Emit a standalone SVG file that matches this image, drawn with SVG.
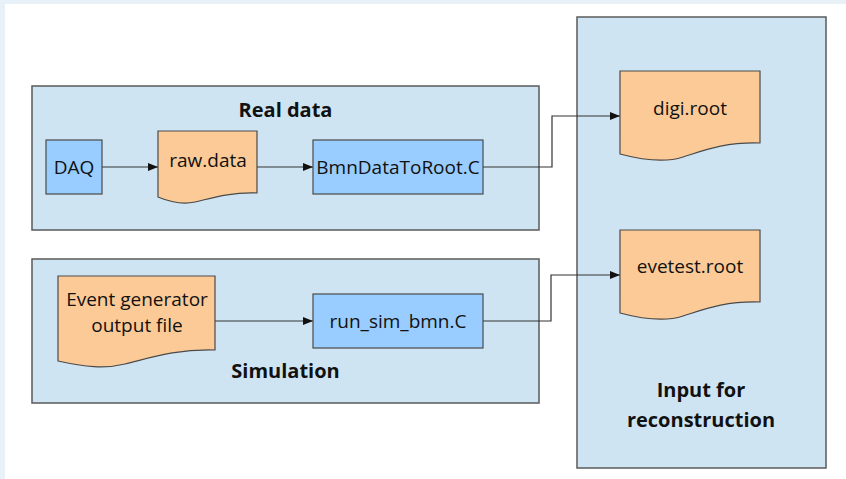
<svg xmlns="http://www.w3.org/2000/svg" width="846" height="479" viewBox="0 0 846 479">
  <style>
    .frame { fill: #cfe4f3; stroke: #5a5a5a; stroke-width: 1.5; }
    .proc { fill: #99ccff; stroke: #4a4a4a; stroke-width: 1.2; }
    .doc { fill: #fcca96; stroke: #4a4a4a; stroke-width: 1.2; }
    .lbl { font-family: "Open Sans", "Liberation Sans", sans-serif; font-size: 19px; fill: #111; text-anchor: middle; }
    .title { font-family: "Open Sans", "Liberation Sans", sans-serif; font-size: 20px; font-weight: bold; fill: #111; text-anchor: middle; }
    .wire { fill: none; stroke: #333; stroke-width: 1.2; }
  </style>
  <defs>
    <marker id="arrow" viewBox="0 0 10 8" refX="10" refY="4" markerWidth="10" markerHeight="8" markerUnits="userSpaceOnUse" orient="auto">
      <path d="M0,0 L10,4 L0,8 Z" fill="#111"/>
    </marker>
  </defs>

  <!-- page backdrop -->
  <rect x="0" y="0" width="846" height="479" fill="#e9f1f8"/>
  <rect x="5" y="4" width="841" height="475" fill="#ffffff"/>

  <!-- group frames -->
  <g id="real-data-group">
    <rect class="frame" x="32" y="86" width="507" height="144"/>
    <text class="title" x="285.5" y="117">Real data</text>
  </g>
  <g id="simulation-group">
    <rect class="frame" x="32" y="259" width="507" height="144"/>
    <text class="title" x="285.5" y="378">Simulation</text>
  </g>
  <g id="reconstruction-input-group">
    <rect class="frame" x="577" y="17" width="249" height="451"/>
    <text class="title" x="701" y="397">Input for</text>
    <text class="title" x="701" y="427">reconstruction</text>
  </g>

  <!-- connectors -->
  <g id="connectors">
    <path class="wire" d="M102,167 H158" marker-end="url(#arrow)"/>
    <path class="wire" d="M257,167 H313" marker-end="url(#arrow)"/>
    <path class="wire" d="M483,167 H552 V116 H620" marker-end="url(#arrow)"/>
    <path class="wire" d="M215,321 H313" marker-end="url(#arrow)"/>
    <path class="wire" d="M483,321 H551 V275 H620" marker-end="url(#arrow)"/>
  </g>

  <!-- nodes -->
  <g id="daq">
    <rect class="proc" x="46" y="140" width="56" height="54"/>
    <text class="lbl" x="74" y="174">DAQ</text>
  </g>
  <g id="raw-data">
    <path class="doc" d="M158,131 H257 V193 C230,192 212,198 195,202 C182,205 170,202 158,197 Z"/>
    <text class="lbl" x="208" y="167">raw.data</text>
  </g>
  <g id="bmn-data-to-root">
    <rect class="proc" x="313" y="140" width="170" height="54"/>
    <text class="lbl" x="398" y="174">BmnDataToRoot.C</text>
  </g>
  <g id="event-generator-output">
    <path class="doc" d="M58,276 H215 V350 C175,349 150,358 125,364 C105,369 85,367 58,361 Z"/>
    <text class="lbl" x="137" y="306">Event generator</text>
    <text class="lbl" x="137" y="332">output file</text>
  </g>
  <g id="run-sim-bmn">
    <rect class="proc" x="313" y="294" width="170" height="54"/>
    <text class="lbl" x="398" y="328">run_sim_bmn.C</text>
  </g>
  <g id="digi-root">
    <path class="doc" d="M620,71 H760 V143 C725,142 705,150 683,157 C668,162 650,162 620,154 Z"/>
    <text class="lbl" x="690" y="115">digi.root</text>
  </g>
  <g id="evetest-root">
    <path class="doc" d="M620,230 H760 V302 C725,301 705,309 683,316 C668,321 650,321 620,313 Z"/>
    <text class="lbl" x="690" y="273">evetest.root</text>
  </g>
</svg>
